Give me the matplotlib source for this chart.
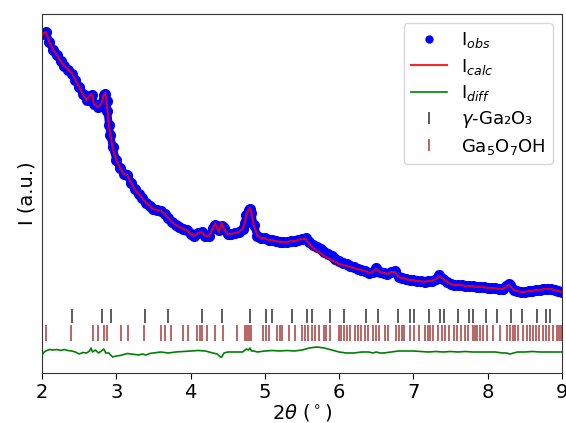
import matplotlib
matplotlib.use("Agg")
import matplotlib.pyplot as plt
from matplotlib.lines import Line2D

# ---------------- data ----------------
two_theta = [2.00, 2.05, 2.10, 2.15, 2.20, 2.25, 2.30, 2.35, 2.40, 2.45, 2.50, 2.55, 2.60, 2.65, 2.67,
             2.70, 2.75, 2.80, 2.83, 2.85, 2.87, 2.88, 2.90, 2.92, 2.95, 3.00, 3.05, 3.10, 3.15, 3.20,
             3.25, 3.30, 3.35, 3.40, 3.45, 3.50, 3.55, 3.60, 3.65, 3.70, 3.75, 3.80, 3.85, 3.90, 3.95,
             4.00, 4.05, 4.10, 4.15, 4.20, 4.25, 4.30, 4.33, 4.35, 4.38, 4.42, 4.45, 4.50, 4.55, 4.60,
             4.65, 4.70, 4.73, 4.75, 4.78, 4.80, 4.82, 4.85, 4.90, 4.95, 5.00, 5.05, 5.10, 5.15, 5.20,
             5.25, 5.30, 5.35, 5.40, 5.45, 5.50, 5.55, 5.60, 5.65, 5.70, 5.75, 5.80, 5.85, 5.90, 5.95,
             6.00, 6.05, 6.10, 6.15, 6.20, 6.25, 6.30, 6.35, 6.40, 6.45, 6.50, 6.55, 6.60, 6.65, 6.70,
             6.75, 6.80, 6.85, 6.90, 6.95, 7.00, 7.05, 7.10, 7.15, 7.20, 7.25, 7.30, 7.35, 7.40, 7.45,
             7.50, 7.55, 7.60, 7.65, 7.70, 7.75, 7.80, 7.85, 7.90, 7.95, 8.00, 8.05, 8.10, 8.15, 8.20,
             8.25, 8.28, 8.30, 8.35, 8.40, 8.45, 8.50, 8.55, 8.60, 8.65, 8.70, 8.75, 8.80, 8.85, 8.90,
             8.95, 9.00]

i_obs = [339, 341, 331, 323, 318, 312, 307, 303, 299, 293, 286, 279, 273, 277, 278,
         269, 266, 269, 278, 279, 272, 262, 248, 238, 226, 213, 205, 199, 198, 190,
         184, 179, 175, 170, 167, 164, 163, 162, 159, 155, 151, 148, 146, 144, 143,
         139, 137, 140, 141, 137, 137, 145, 148, 147, 143, 147, 145, 139, 139, 140,
         141, 144, 150, 158, 163, 164, 160, 148, 137, 135, 135, 133, 133, 132, 131,
         131, 131, 132, 132, 133, 134, 135, 131, 128, 126, 124, 121, 119, 117, 114,
         112, 110, 109, 107, 106, 104, 103, 102, 100, 101, 105, 101, 100, 99, 101,
         102, 96, 95, 94, 93, 93, 92, 92, 91, 92, 92, 94, 98, 94, 91,
         89, 88, 88, 88, 87, 87, 87, 86, 86, 86, 85, 85, 85, 84, 84,
         87, 89, 88, 83, 82, 81, 81, 82, 82, 83, 83, 84, 84, 84, 83,
         82, 81]

i_calc = [339, 341, 331, 323, 318, 312, 307, 304, 300, 293, 286, 279, 273, 278, 279,
          269, 266, 269, 278, 280, 272, 262, 248, 238, 226, 213, 205, 199, 198, 190,
          184, 179, 175, 170, 167, 164, 163, 162, 159, 155, 151, 148, 146, 144, 143,
          139, 137, 140, 141, 137, 137, 145, 150, 146, 141, 150, 144, 139, 139, 140,
          141, 144, 150, 158, 163, 165, 160, 148, 137, 135, 135, 133, 133, 132, 131,
          131, 131, 132, 132, 133, 134, 134, 129, 125, 122, 120, 117, 115, 113, 111,
          109, 108, 107, 106, 105, 104, 103, 102, 100, 101, 104, 101, 100, 99, 101,
          101, 96, 95, 94, 93, 93, 92, 92, 91, 92, 92, 94, 97, 94, 91,
          89, 88, 88, 88, 87, 87, 87, 86, 86, 86, 85, 85, 85, 84, 84,
          86, 88, 87, 83, 82, 81, 81, 82, 82, 83, 83, 84, 84, 84, 83,
          82, 81]

two_theta_diff = [2.00, 2.03, 2.05, 2.10, 2.15, 2.20, 2.25, 2.30, 2.35, 2.40, 2.45, 2.50, 2.55, 2.60,
                  2.64, 2.66, 2.68, 2.72, 2.76, 2.80, 2.83, 2.86, 2.90, 2.95, 3.00, 3.05, 3.10, 3.15,
                  3.20, 3.25, 3.30, 3.35, 3.40, 3.45, 3.50, 3.60, 3.70, 3.80, 3.90, 4.00, 4.10, 4.20,
                  4.30, 4.36, 4.40, 4.42, 4.45, 4.50, 4.60, 4.70, 4.75, 4.78, 4.80, 4.82, 4.85, 4.90,
                  5.00, 5.10, 5.20, 5.30, 5.40, 5.50, 5.60, 5.70, 5.80, 5.90, 6.00, 6.10, 6.20, 6.30,
                  6.40, 6.45, 6.50, 6.55, 6.60, 6.70, 6.80, 6.90, 7.00, 7.10, 7.20, 7.30, 7.40, 7.50,
                  7.60, 7.70, 7.80, 7.90, 8.00, 8.10, 8.20, 8.25, 8.30, 8.35, 8.40, 8.50, 8.60, 8.70,
                  8.80, 8.90, 9.00]
i_diff = [18, 21, 22, 23.5, 23, 23.5, 22.5, 23.5, 22.5, 22, 21, 19, 20.5, 20,
          22, 25, 21, 23, 20, 22, 24, 20, 20, 16, 17, 17.5, 18.5, 19.5,
          19, 18.5, 18, 19, 18, 19.5, 20, 21, 20, 21, 21.5, 22, 22.5, 22,
          20, 19, 16, 16, 20, 21, 21, 21, 24, 23, 25, 22, 22, 21,
          22, 22.5, 22, 22.5, 22, 23, 25, 26, 25, 23, 21, 20, 20, 21,
          21, 20, 21, 20, 20, 21, 22, 22, 22, 21.5, 21, 21.5, 21, 21.5,
          21, 21.5, 21, 21, 21, 21, 20, 20, 19, 20, 21, 21, 21.5, 21,
          21, 21, 21]

gamma_ga2o3_peaks = [2.40, 2.81, 2.93, 3.39, 3.70, 4.16, 4.42, 4.80, 5.02, 5.09, 5.37, 5.57,
                     5.64, 5.88, 6.06, 6.36, 6.52, 6.79, 6.95, 7.01, 7.21, 7.36, 7.41, 7.60,
                     7.75, 7.80, 7.98, 8.12, 8.32, 8.46, 8.67, 8.79, 8.84]

ga5o7oh_peaks = [2.06, 2.39, 2.68, 2.76, 2.84, 2.87, 3.07, 3.16, 3.37, 3.60, 3.66, 3.74, 3.90,
                 3.96, 4.09, 4.13, 4.16, 4.22, 4.33, 4.43, 4.62, 4.73, 4.76, 4.79, 4.82, 4.98,
                 5.01, 5.05, 5.17, 5.20, 5.23, 5.32, 5.41, 5.50, 5.54, 5.58, 5.64, 5.67, 5.73,
                 5.79, 5.82, 5.88, 6.00, 6.03, 6.07, 6.10, 6.15, 6.21, 6.26, 6.30, 6.35, 6.39,
                 6.45, 6.50, 6.54, 6.62, 6.66, 6.77, 6.80, 6.84, 6.87, 6.96, 7.01, 7.07, 7.16,
                 7.19, 7.22, 7.27, 7.33, 7.38, 7.42, 7.48, 7.54, 7.58, 7.64, 7.69, 7.74, 7.80,
                 7.83, 7.85, 7.89, 7.94, 7.99, 8.07, 8.17, 8.26, 8.30, 8.34, 8.37, 8.41, 8.47,
                 8.53, 8.57, 8.61, 8.65, 8.69, 8.74, 8.78, 8.83, 8.88, 8.93, 8.96, 8.99]

x_ticks = [2, 3, 4, 5, 6, 7, 8, 9]
label_obs = r"I$_{obs}$"
label_calc = r"I$_{calc}$"
label_diff = r"I$_{diff}$"
label_gamma = r"$\gamma$-Ga₂O₃"
label_ga5 = r"Ga$_5$O$_7$OH"

# ---------------- figure ----------------
fig = plt.figure(figsize=(5.66, 4.23), dpi=100)
ax = fig.add_axes([42 / 566, 50 / 423, 520 / 566, 359 / 423])

# observed: band of dense blue dots
ax.plot(two_theta, i_obs, color="blue", lw=5.5, solid_capstyle="round", zorder=2)
ax.plot(two_theta, i_obs, "o", color="blue", ms=7, mec="blue", zorder=2)
ax.plot(two_theta, i_calc, color="red", lw=1.5, alpha=0.85, zorder=3)
ax.plot(two_theta_diff, i_diff, color="green", lw=1.2, zorder=3)

ax.plot(gamma_ga2o3_peaks, [57] * len(gamma_ga2o3_peaks), "|", color="black",
        ms=10, mew=1.2, alpha=0.75, zorder=3)
ax.plot(ga5o7oh_peaks, [40.5] * len(ga5o7oh_peaks), "|", color="darkred",
        ms=11, mew=1.2, alpha=0.7, zorder=3)

ax.set_xlim(2, 9)
ax.set_ylim(0, 359)
ax.set_xticks(x_ticks)
ax.set_xticklabels([str(t) for t in x_ticks])
ax.set_yticks([])
ax.tick_params(axis="x", labelsize=14, direction="out", length=4)
ax.set_xlabel(r"$2\theta$ ($^\circ$)", fontsize=14, labelpad=0)
ax.set_ylabel("I (a.u.)", fontsize=14)
for s in ax.spines.values():
    s.set_color("#333333")

handles = [
    Line2D([], [], marker="o", ls="none", color="blue", ms=5),
    Line2D([], [], color="red", lw=1.5, alpha=0.85),
    Line2D([], [], color="green", lw=1.2),
    Line2D([], [], marker="|", ls="none", color="black", ms=9, mew=1.2, alpha=0.75),
    Line2D([], [], marker="|", ls="none", color="darkred", ms=9, mew=1.2, alpha=0.7),
]
labels = [label_obs, label_calc, label_diff, label_gamma, label_ga5]
ax.legend(handles, labels, loc="upper right", fontsize=13, frameon=True,
          handletextpad=0.8, labelspacing=0.35)

fig.savefig("out.png", dpi=100)
